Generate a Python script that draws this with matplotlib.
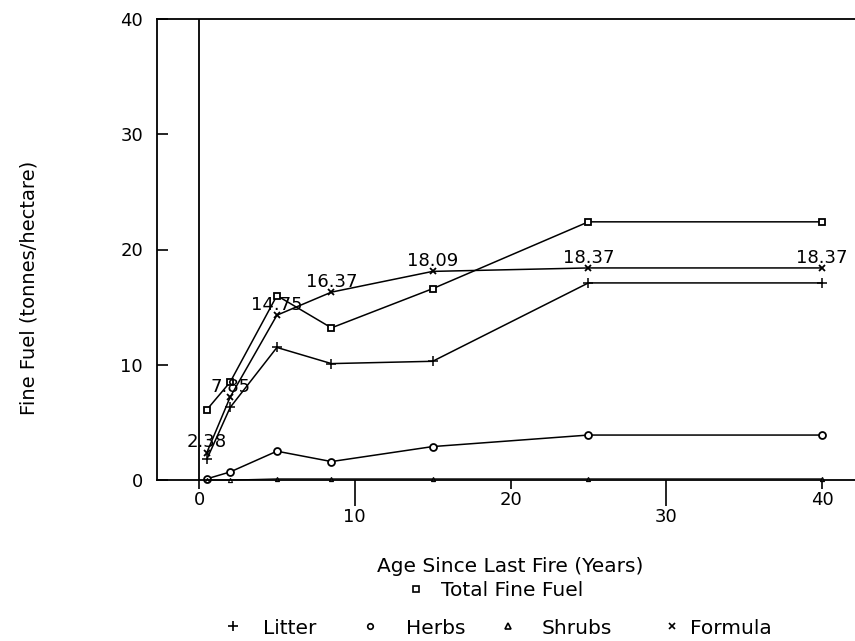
import matplotlib
matplotlib.use("Agg")
import matplotlib.pyplot as plt
from matplotlib.lines import Line2D

# years since last fire
age = [0.5, 2, 5, 8.5, 15, 25, 40]

# fine fuel components (tonnes/hectare)
total_fuel = [6.1, 8.5, 16.0, 13.2, 16.6, 22.4, 22.4]
litter = [1.8, 6.3, 11.5, 10.1, 10.3, 17.1, 17.1]
herbs = [0.1, 0.7, 2.5, 1.6, 2.9, 3.9, 3.9]
shrubs = [0.0, 0.0, 0.1, 0.1, 0.1, 0.1, 0.1]
formula = [2.38, 7.2, 14.3, 16.3, 18.1, 18.4, 18.4]
formula_labels = ["2.38", "7.85", "14.75", "16.37", "18.09", "18.37", "18.37"]

plt.rcParams['font.family'] = ['DejaVu Sans']
fig = plt.figure(figsize=(8.55, 6.41), dpi=100)
ax = fig.add_axes([157/855, 161/641, 698/855, 461/641])

lw = 1.1
ms = 5
ax.plot(age, total_fuel, color='black', lw=lw, marker='s', ms=ms, mfc='white', mew=1.3, clip_on=False)
ax.plot(age, litter, color='black', lw=lw, marker='+', ms=ms+2, mew=1.1, clip_on=False)
ax.plot(age, herbs, color='black', lw=lw, marker='o', ms=ms, mfc='white', mew=1.3, clip_on=False)
ax.plot(age, shrubs, color='black', lw=0.8, marker='^', ms=3, mfc='white', mew=0.8, clip_on=False)
ax.plot(age, formula, color='black', lw=lw, marker='x', ms=ms, mew=1.3, clip_on=False)

for x, y, t in zip(age, formula, formula_labels):
    ax.annotate(t, (x, y), xytext=(0, 7.5), textcoords='offset points',
                ha='center', va='center', fontsize=13)

# vertical line at zero age
ax.axvline(0, color='black', lw=1.3)

ax.set_xlim(-2.7, 42.12)
ax.set_ylim(0, 40)

ax.spines['right'].set_visible(False)
for s in ['left', 'top', 'bottom']:
    ax.spines[s].set_linewidth(1.3)

ax.set_yticks([0, 10, 20, 30, 40])
ax.set_yticklabels(['0', '10', '20', '30', '40'])
ax.tick_params(axis='y', direction='in', length=8, width=1.2, labelsize=13, pad=10)

ax.set_xticks([0, 20, 40])
ax.set_xticklabels(['0', '20', '40'])
ax.set_xticks([10, 30], minor=True)
ax.set_xticklabels(['10', '30'], minor=True)
ax.tick_params(axis='x', which='major', direction='out', length=6.5, width=1.2, labelsize=13, pad=1.5)
ax.tick_params(axis='x', which='minor', direction='out', length=19, width=1.2, labelsize=13, pad=1.5)

fig.text(29/855, 1 - 288/641, 'Fine Fuel (tonnes/hectare)', rotation=90,
         ha='center', va='center', fontsize=14)
fig.text(510/855, 1 - 566/641, 'Age Since Last Fire (Years)', ha='center', va='center', fontsize=14.5)

# legend, marker only, one small legend per entry
def proxy(m, size):
    return Line2D([], [], color='black', ls='none', marker=m, ms=size, mfc='white', mew=1.2)

entries = [
    ('s', 5, 'Total Fine Fuel', 409, 591, 0.9),
    ('+', 7, 'Litter', 226, 628, 1.15),
    ('o', 4, 'Herbs', 363, 628, 1.45),
    ('^', 4, 'Shrubs', 501, 628, 1.3),
    ('x', 5, 'Formula', 665, 628, 0.55),
]
for m, size, label, px, py, pad in entries:
    fig.legend([proxy(m, size)], [label], loc='center left',
               bbox_to_anchor=(px/855, 1 - py/641), frameon=False, fontsize=14.5,
               borderpad=0, borderaxespad=0, handlelength=0.7, handletextpad=pad)

fig.savefig('out.png', dpi=100)
